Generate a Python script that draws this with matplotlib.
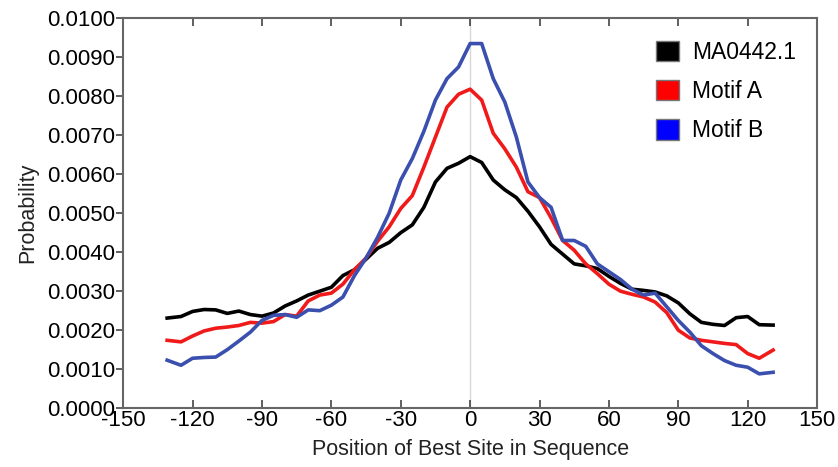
import numpy as np
import matplotlib.pyplot as plt
from matplotlib.patches import Patch

plt.rcParams['font.family'] = ['Liberation Sans', 'DejaVu Sans']
plt.rcParams['axes.unicode_minus'] = False

positions = [-131] + list(range(-125, 130, 5)) + [131]

ma0442 = [0.00231, 0.00235, 0.00248, 0.00253, 0.00252, 0.00243, 0.00249, 0.00240, 0.00236,
          0.00244, 0.00262, 0.00275, 0.00290, 0.00300, 0.00310, 0.00340, 0.00355, 0.00382,
          0.00410, 0.00425, 0.00450, 0.00470, 0.00515, 0.00580, 0.00615, 0.00628, 0.00645,
          0.00630, 0.00585, 0.00560, 0.00540, 0.00505, 0.00465, 0.00420, 0.00395, 0.00370,
          0.00365, 0.00358, 0.00338, 0.00320, 0.00305, 0.00302, 0.00298, 0.00288, 0.00270,
          0.00242, 0.00220, 0.00215, 0.00212, 0.00232, 0.00235, 0.00214, 0.00213]

motif_a = [0.00174, 0.00170, 0.00185, 0.00198, 0.00205, 0.00208, 0.00212, 0.00220, 0.00218,
           0.00222, 0.00240, 0.00236, 0.00275, 0.00290, 0.00295, 0.00318, 0.00355, 0.00385,
           0.00428, 0.00465, 0.00512, 0.00545, 0.00618, 0.00695, 0.00772, 0.00805, 0.00818,
           0.00790, 0.00705, 0.00665, 0.00618, 0.00555, 0.00540, 0.00488, 0.00430, 0.00405,
           0.00370, 0.00345, 0.00318, 0.00300, 0.00292, 0.00285, 0.00272, 0.00245, 0.00200,
           0.00180, 0.00174, 0.00170, 0.00166, 0.00163, 0.00140, 0.00128, 0.00149]

motif_b = [0.00123, 0.00110, 0.00128, 0.00130, 0.00131, 0.00150, 0.00172, 0.00195, 0.00225,
           0.00238, 0.00240, 0.00233, 0.00252, 0.00250, 0.00264, 0.00285, 0.00340, 0.00385,
           0.00438, 0.00500, 0.00585, 0.00640, 0.00710, 0.00790, 0.00845, 0.00875, 0.00935,
           0.00935, 0.00845, 0.00785, 0.00695, 0.00580, 0.00540, 0.00515, 0.00430, 0.00430,
           0.00415, 0.00370, 0.00350, 0.00330, 0.00305, 0.00290, 0.00295, 0.00260, 0.00225,
           0.00195, 0.00160, 0.00140, 0.00122, 0.00110, 0.00105, 0.00088, 0.00092]

names = ["MA0442.1", "Motif A", "Motif B"]
line_colors = ["#000000", "#f01a1a", "#3a4fae"]
patch_colors = ["#000000", "#ff0000", "#0000ff"]

fig = plt.figure(figsize=(8.38, 4.67), dpi=100)
ax = fig.add_axes([0.147, 0.126, 0.828, 0.835])

ax.axvline(0, color="#d8d8d8", lw=1, zorder=0)
for vals, c in zip([ma0442, motif_a, motif_b], line_colors):
    ax.plot(positions, vals, color=c, lw=2.6)

ax.set_xlim(-150, 150)
ax.set_ylim(0, 0.01)
ax.set_xticks(np.arange(-150, 151, 30))
ax.set_yticks(np.arange(0, 0.01001, 0.001))
ax.set_yticklabels(["%.4f" % v for v in np.arange(0, 0.01001, 0.001)])

for s in ax.spines.values():
    s.set_color("#666666")
    s.set_linewidth(1.5)
ax.tick_params(axis='x', direction='in', top=True, length=6, width=1.2,
               color="#444444", labelsize=16, pad=1)
ax.tick_params(axis='y', direction='out', length=5, width=1.2,
               color="#444444", labelsize=16, pad=1)

ax.set_xlabel("Position of Best Site in Sequence", fontsize=15.5, color="#222222", labelpad=6)
ax.set_ylabel("Probability", fontsize=15.5, color="#222222", labelpad=6)

handles = [Patch(facecolor=c, edgecolor="#777777", label=n) for c, n in zip(patch_colors, names)]
ax.legend(handles=handles, loc="upper right", bbox_to_anchor=(1.0, 0.995), frameon=False,
          fontsize=16.5, handlelength=1.0, handleheight=1.0, handletextpad=0.6,
          labelspacing=0.7)

fig.text(0.045, 1 - 6 / 467, "B", fontsize=20, fontweight="bold", va="bottom")

fig.savefig("out.png")
